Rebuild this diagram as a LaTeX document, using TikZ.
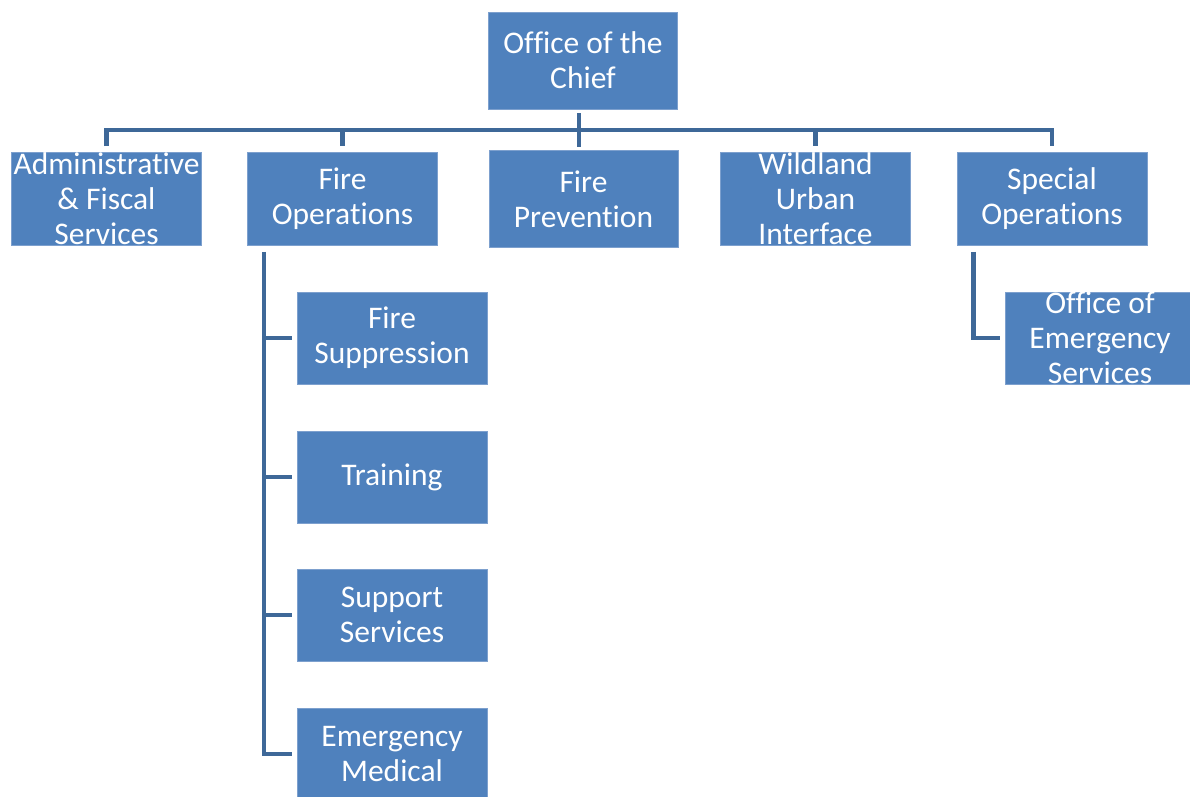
\documentclass[tikz,border=0pt]{standalone}
\usepackage{fontspec}
\setmainfont[Ligatures=NoCommon]{Carlito}
\definecolor{boxblue}{RGB}{79,129,189}
\definecolor{boxedge}{RGB}{125,160,206}
\definecolor{linkblue}{RGB}{62,104,152}
\begin{document}
\begin{tikzpicture}[x=1pt,y=-1pt,
  unit/.style={rectangle, fill=boxblue, draw=boxedge, line width=0.8pt,
    minimum width=190pt, minimum height=93pt, inner sep=0pt,
    text=white, align=center, font=\fontsize{31.5}{35}\selectfont},
  conn/.style={draw=linkblue, line width=4.5pt, line join=miter, line cap=butt}]
\useasboundingbox (0,0) rectangle (1190,796);
\clip (0,0) rectangle (1190,796);
\fill[white] (0,0) rectangle (1190,796);

% top of the chart
\node[unit, minimum width=189pt, minimum height=97pt] (chief) at (583,60.5) {Office of the\\Chief};
\coordinate (bus) at (579,130);

% divisions
\node[unit] (admin)      at (106.5,199) {Administrative\\\& Fiscal\\Services};
\node[unit] (fireops)    at (342.5,199) {Fire\\Operations};
\node[unit, minimum width=189pt, minimum height=97pt] (prevention) at (583.5,199) {Fire\\Prevention};
\node[unit] (wildland)   at (815.5,199) {Wildland\\Urban\\Interface};
\node[unit] (special)    at (1052,199)  {Special\\Operations};

% sections under Fire Operations
\node[unit, minimum height=92pt] (suppression) at (392,338) {Fire\\Suppression};
\node[unit, minimum height=92pt] (training)    at (392,477) {Training};
\node[unit, minimum height=92pt] (support)     at (392,615) {Support\\Services};
\node[unit, minimum height=92pt] (emergency)   at (392,754) {Emergency\\Medical};

% section under Special Operations
\node[unit, minimum height=92pt] (oes) at (1100,338) {Office of\\Emergency\\Services};

% connectors from the chief to the divisions
\draw[conn] ([yshift=6pt]admin.north) -- (admin.north |- bus)
  -- (special.north |- bus) -- ([yshift=6pt]special.north);
\draw[conn] (fireops.north |- bus) -- ([yshift=6pt]fireops.north);
\draw[conn] (wildland.north |- bus) -- ([yshift=6pt]wildland.north);
\draw[conn] ([xshift=-4pt,yshift=-4pt]chief.south) -- ([xshift=-4.5pt,yshift=3pt]prevention.north);

% Fire Operations spine
\coordinate (opsspine) at ([xshift=17pt,yshift=-6pt]fireops.south west);
\draw[conn] (opsspine) |- ([xshift=-5pt]emergency.west);
\draw[conn] (opsspine |- suppression.west) -- ([xshift=-5pt]suppression.west);
\draw[conn] (opsspine |- training.west) -- ([xshift=-5pt]training.west);
\draw[conn] (opsspine |- support.west) -- ([xshift=-5pt]support.west);

% Special Operations spine
\coordinate (specspine) at ([xshift=17pt,yshift=-6pt]special.south west);
\draw[conn] (specspine) |- ([xshift=-5pt]oes.west);
\end{tikzpicture}
\end{document}
